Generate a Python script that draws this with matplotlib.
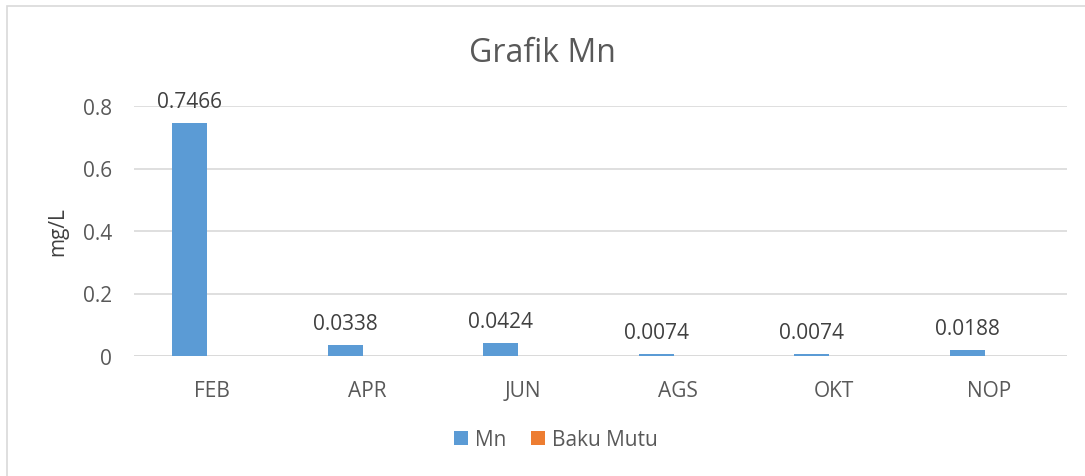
import matplotlib
matplotlib.use("Agg")
import matplotlib.pyplot as plt
from matplotlib.patches import Rectangle
import numpy as np

categories = ["FEB", "APR", "JUN", "AGS", "OKT", "NOP"]
mn_values = [0.7466, 0.0338, 0.0424, 0.0074, 0.0074, 0.0188]
mn_labels = ["0.7466", "0.0338", "0.0424", "0.0074", "0.0074", "0.0188"]
baku_mutu = [0, 0, 0, 0, 0, 0]
yticks = [0, 0.2, 0.4, 0.6, 0.8]
ytick_labels = ["0", "0.2", "0.4", "0.6", "0.8"]

plt.rcParams['font.family'] = ['Open Sans', 'DejaVu Sans']
txt = "#595959"
grid = "#D9D9D9"
blue = "#5B9BD5"
orange = "#ED7D31"

fig = plt.figure(figsize=(10.85, 4.77), dpi=100)
fig.patch.set_facecolor("white")
# chart border
fig.patches.append(Rectangle((7/1085, -0.05), 1.1, 1 - 7/477 + 0.05, transform=fig.transFigure,
                             fill=False, edgecolor=grid, linewidth=1.2))

ax = fig.add_axes([134/1085, 1 - 357/477, (1067-134)/1085, (357-107)/477])
x = np.arange(len(categories))
w = 0.225
off = 0.143
b1 = ax.bar(x - off, mn_values, w, color=blue, label="Mn", zorder=3)
b2 = ax.bar(x + off, baku_mutu, w, color=orange, label="Baku Mutu", zorder=3)

for xi, v, lab in zip(x, mn_values, mn_labels):
    ax.annotate(lab, (xi - off, v), xytext=(0, 8), textcoords="offset points",
                ha="center", va="bottom", fontsize=15, color="#404040")

ax.set_xlim(-0.5, len(categories) - 0.5)
ax.set_ylim(0, 0.8)
ax.set_yticks(yticks)
ax.set_yticklabels(ytick_labels)
ax.set_xticks(x)
ax.set_xticklabels(categories)
ax.tick_params(axis="both", length=0, labelsize=15, labelcolor=txt)
ax.tick_params(axis="x", pad=17)
ax.tick_params(axis="y", pad=16)
ax.grid(axis="y", color=grid, linewidth=1.2, zorder=0)
for s in ax.spines.values():
    s.set_visible(False)
ax.axhline(0, color=grid, linewidth=1.2, zorder=2)

ax.set_ylabel("mg/L", fontsize=15, color="#404040", labelpad=10)
fig.text(0.5, 1 - 53/477, "Grafik Mn", ha="center", va="center", fontsize=23, color=txt)

leg = fig.legend(handles=[b1, b2], labels=["Mn", "Baku Mutu"], loc="center",
                 bbox_to_anchor=(556/1085, 1 - 441/477), ncol=2, frameon=False,
                 fontsize=15, handlelength=0.65, handleheight=0.65, handletextpad=0.35,
                 columnspacing=1.2)
for t in leg.get_texts():
    t.set_color(txt)

fig.savefig("out.png", dpi=100)
